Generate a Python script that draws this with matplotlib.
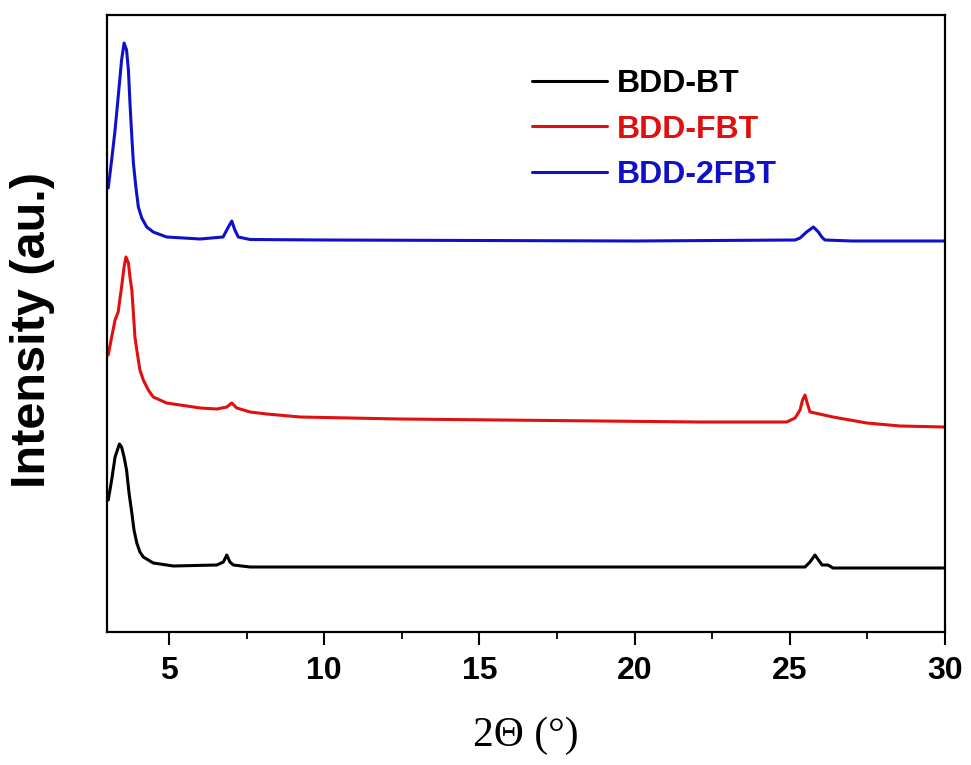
import matplotlib
matplotlib.use("Agg")
import matplotlib.pyplot as plt
from matplotlib.ticker import MultipleLocator

# XRD patterns (2-theta in degrees, intensity in arbitrary units, curves offset vertically)
bt_2theta = [3.04, 3.15, 3.26, 3.40, 3.47, 3.55, 3.63, 3.71, 3.80, 3.87, 3.96,
             4.06, 4.17, 4.49, 5.14, 6.54, 6.75, 6.86, 6.96, 7.07, 7.61, 10.0,
             15.0, 20.0, 25.49, 25.65, 25.81, 25.97, 26.04, 26.23, 26.39, 30.0]
bt_intensity = [132, 152, 175, 188, 185, 175, 162, 139, 119, 102, 89,
                80, 75, 69, 66, 67, 70, 77, 70, 67, 65, 65,
                65, 65, 65, 70, 77, 70, 67, 67, 64, 64]

fbt_2theta = [3.04, 3.15, 3.26, 3.36, 3.42, 3.47, 3.55, 3.61, 3.69, 3.74, 3.80,
              3.85, 3.90, 3.96, 4.06, 4.17, 4.33, 4.49, 4.92, 6.00, 6.54, 6.86,
              7.02, 7.18, 7.61, 8.15, 9.22, 12.44, 15.66, 18.88, 22.11, 24.90,
              25.17, 25.33, 25.41, 25.49, 25.56, 25.65, 25.81, 26.39, 27.48,
              28.55, 30.0]
fbt_intensity = [277, 295, 312, 320, 334, 345, 365, 375, 369, 355, 342,
                 319, 295, 282, 262, 252, 242, 235, 229, 224, 223, 225,
                 229, 224, 220, 218, 215, 213, 212, 211, 210, 210,
                 214, 222, 232, 237, 229, 220, 219, 215, 209,
                 206, 205]

f2bt_2theta = [3.04, 3.15, 3.26, 3.36, 3.47, 3.55, 3.63, 3.69, 3.74, 3.80, 3.85,
               3.93, 4.01, 4.12, 4.28, 4.49, 4.92, 6.00, 6.74, 6.91, 7.02, 7.12,
               7.23, 7.61, 10.0, 15.0, 20.0, 25.17, 25.33, 25.54, 25.76, 25.92,
               26.03, 26.13, 27.0, 30.0]
f2bt_intensity = [444, 472, 502, 535, 572, 589, 582, 562, 529, 495, 469,
                  445, 425, 414, 405, 400, 395, 393, 395, 405, 411, 402,
                  395, 392.5, 392, 391.5, 391, 392, 394, 400, 405, 400,
                  395, 392, 391, 391]

series_labels = ["BDD-BT", "BDD-FBT", "BDD-2FBT"]
series_colors = ["#000000", "#e01010", "#1010c8"]
x_ticks = [5, 10, 15, 20, 25, 30]

plt.rcParams["font.family"] = ["Liberation Sans", "DejaVu Sans"]

fig = plt.figure(figsize=(9.71, 7.65), dpi=100)
ax = fig.add_axes([107 / 971, 133 / 765, 838 / 971, 617 / 765])

for xs, ys, lab, col in zip([bt_2theta, fbt_2theta, f2bt_2theta],
                            [bt_intensity, fbt_intensity, f2bt_intensity],
                            series_labels, series_colors):
    ax.plot(xs, ys, color=col, lw=2.2, label=lab,
            solid_joinstyle="round", solid_capstyle="round")

ax.set_xlim(3, 30)
ax.set_ylim(0, 617)
ax.set_xticks(x_ticks)
ax.xaxis.set_minor_locator(MultipleLocator(2.5))
ax.set_yticks([])
ax.tick_params(axis="x", which="major", direction="out", length=9, width=1.5,
               labelsize=23, pad=8)
ax.tick_params(axis="x", which="minor", direction="out", length=5, width=1.3)
for lbl in ax.get_xticklabels():
    lbl.set_fontweight("bold")
for sp in ax.spines.values():
    sp.set_linewidth(1.6)

ax.set_xlabel("2\u0398 (\u00b0)", fontsize=30, family=["Liberation Serif", "DejaVu Serif"],
              labelpad=22)
ax.set_ylabel("Intensity (au.)", fontsize=35, fontweight="bold", labelpad=34)
ax.yaxis.set_label_coords(-0.062, 0.49)

leg = ax.legend(loc="upper left", bbox_to_anchor=(0.507, 0.912), frameon=False,
                prop={"weight": "bold", "size": 23}, handlelength=2.35,
                handletextpad=0.3, labelspacing=0.48, borderpad=0, borderaxespad=0,
                labelcolor="linecolor")
for h in leg.get_lines():
    h.set_linewidth(2.2)

fig.savefig("out.png", dpi=100)
